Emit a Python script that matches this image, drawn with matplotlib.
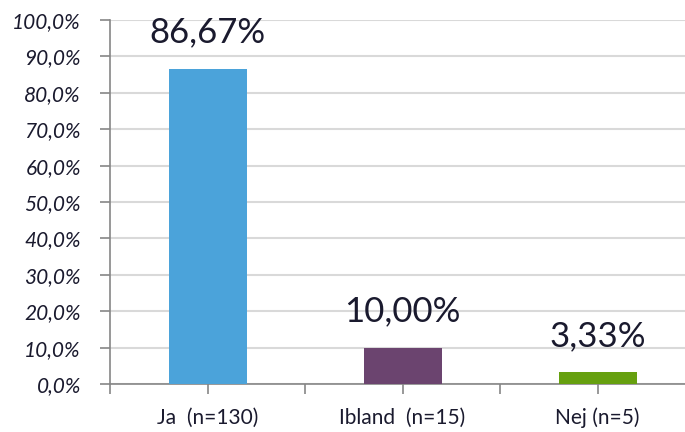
import matplotlib.pyplot as plt
from matplotlib.ticker import FuncFormatter

categories = ["Ja  (n=130)", "Ibland  (n=15)", "Nej (n=5)"]
values = [86.67, 10.00, 3.33]
colors = ["#4BA3DA", "#6B446F", "#66A00F"]
y_ticks = list(range(0, 101, 10))

plt.rcParams["font.family"] = ["Lato", "DejaVu Sans"]

fig = plt.figure(figsize=(6.85, 4.32), dpi=100)
ax = fig.add_axes([110 / 685, 1 - 384 / 432, 585 / 685, 364 / 432])

x = range(len(categories))
ax.bar(x, values, width=0.4, color=colors, zorder=3)

for xi, v in zip(x, values):
    ax.annotate(f"{v:.2f}%".replace(".", ","), (xi, v), xytext=(0, 26),
                textcoords="offset points", ha="center", va="center",
                fontsize=25, color="#1a1a2e")

ax.set_xlim(-0.5, 2.5)
ax.set_ylim(0, 100)
ax.set_yticks(y_ticks)
ax.yaxis.set_major_formatter(FuncFormatter(lambda v, p: f"{v:.1f}%".replace(".", ",")))
ax.set_xticks(list(x))
ax.set_xticklabels(categories)
ax.set_xticks([-0.5, 0.5, 1.5, 2.5], minor=True)

ax.grid(axis="y", color="#D9D9D9", linewidth=1.5, zorder=0)
for s in ["top", "right"]:
    ax.spines[s].set_visible(False)
for s in ["left", "bottom"]:
    ax.spines[s].set_color("#868686")
    ax.spines[s].set_linewidth(1.2)

ax.tick_params(axis="y", length=7, width=1.2, color="#868686", labelsize=15,
               labelcolor="#1a1a2e", pad=14)
ax.tick_params(axis="x", which="both", length=7, width=1.2, color="#868686",
               labelsize=15, labelcolor="#1a1a2e", pad=10)
for lbl in ax.get_yticklabels():
    lbl.set_style("italic")

fig.savefig("out.png", dpi=100)
